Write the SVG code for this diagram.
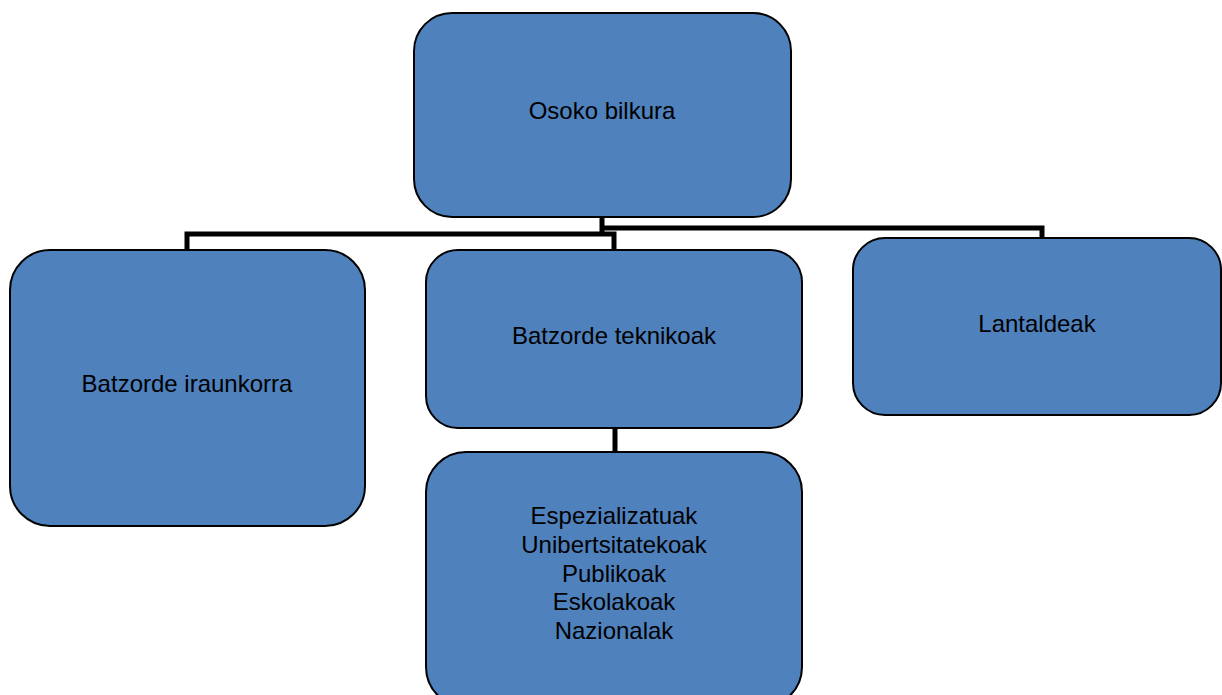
<svg xmlns="http://www.w3.org/2000/svg" width="1222" height="695" viewBox="0 0 1222 695">
<style>
.box{fill:#4F81BD;stroke:#000;stroke-width:2}
.lbl{font-family:"Liberation Sans",Arial,sans-serif;font-size:24px;fill:#000;text-anchor:middle}
.con{fill:none;stroke:#000;stroke-width:5}
</style>
<rect width="1222" height="695" fill="#fff"/>
<g id="connectors">
<path class="con" d="M602 217 V234 M187 251 V234 H614 V251"/>
<path class="con" d="M602 228 H1042 V239"/>
<path class="con" d="M615 428 V453"/>
</g>
<g id="osoko">
<rect class="box" x="414" y="13" width="377" height="204" rx="38"/>
<text class="lbl" x="602" y="119">Osoko bilkura</text>
</g>
<g id="iraunkorra">
<rect class="box" x="10" y="250" width="355" height="276" rx="40"/>
<text class="lbl" x="187" y="392">Batzorde iraunkorra</text>
</g>
<g id="teknikoak">
<rect class="box" x="426" y="250" width="376" height="178" rx="32"/>
<text class="lbl" x="614" y="344">Batzorde teknikoak</text>
</g>
<g id="lantaldeak">
<rect class="box" x="853" y="238" width="368" height="177" rx="32"/>
<text class="lbl" x="1037" y="332">Lantaldeak</text>
</g>
<g id="motak">
<rect class="box" x="426" y="452" width="376" height="255" rx="40"/>
<text class="lbl" x="614" y="524">Espezializatuak</text>
<text class="lbl" x="614" y="553">Unibertsitatekoak</text>
<text class="lbl" x="614" y="582">Publikoak</text>
<text class="lbl" x="614" y="610">Eskolakoak</text>
<text class="lbl" x="614" y="639">Nazionalak</text>
</g>
</svg>
